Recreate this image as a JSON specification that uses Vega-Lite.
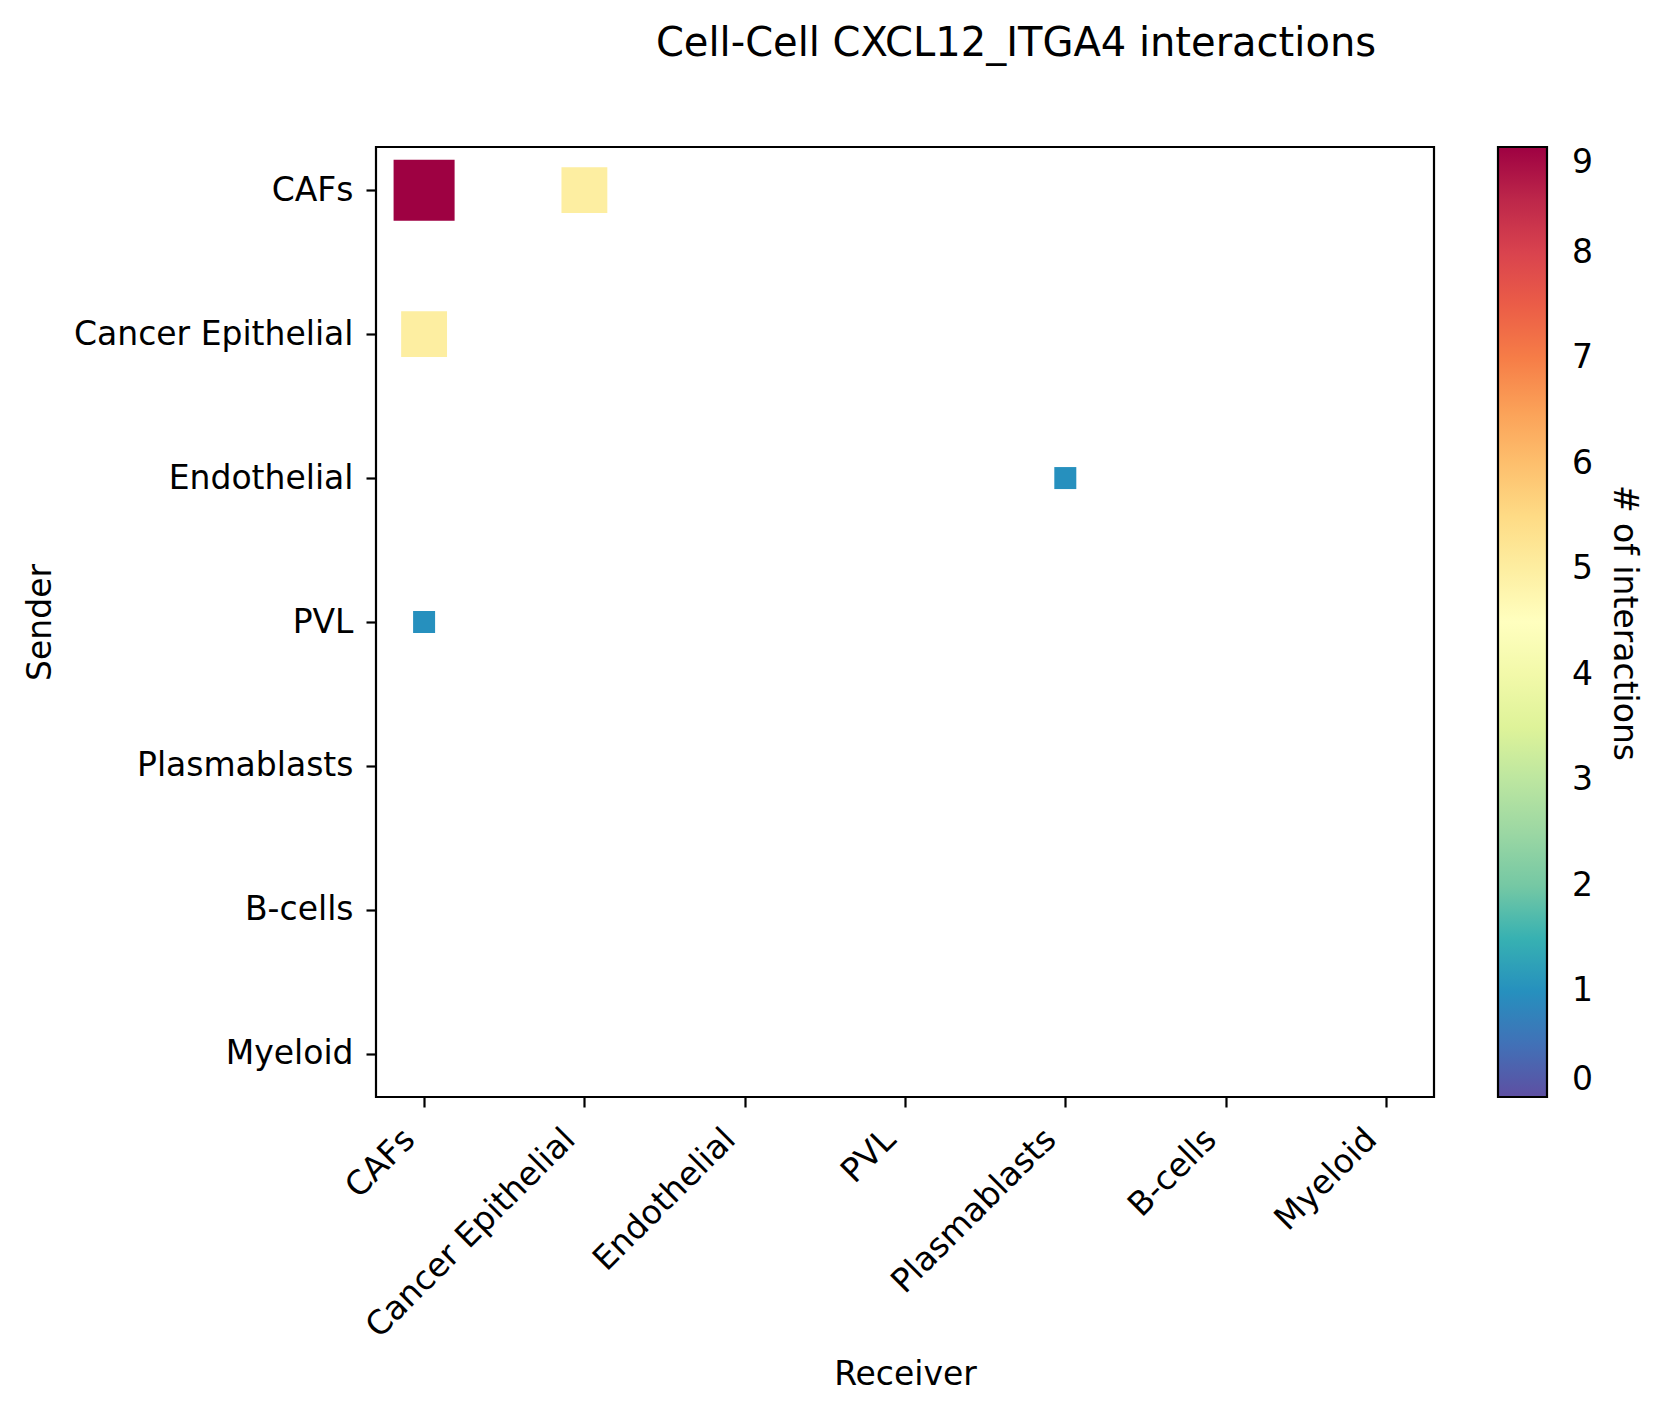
{
  "$schema": "https://vega.github.io/schema/vega-lite/v6.json",
  "autosize": {"type": "none"},
  "padding": {"left": 376, "top": 147, "right": 230, "bottom": 318},
  "width": 1058,
  "height": 950,
  "title": {
    "text": "Cell-Cell CXCL12_ITGA4 interactions",
    "fontSize": 40,
    "font": "DejaVu Sans",
    "fontWeight": "normal",
    "color": "black",
    "anchor": "middle",
    "dx": 111,
    "offset": 83
  },
  "data": {
    "values": [
      {"Sender": "CAFs", "Receiver": "CAFs", "count": 9},
      {"Sender": "CAFs", "Receiver": "Cancer Epithelial", "count": 5},
      {"Sender": "Cancer Epithelial", "Receiver": "CAFs", "count": 5},
      {"Sender": "Endothelial", "Receiver": "Plasmablasts", "count": 1},
      {"Sender": "PVL", "Receiver": "CAFs", "count": 1}
    ]
  },
  "mark": {"type": "point", "shape": "square", "filled": true, "opacity": 1},
  "encoding": {
    "x": {
      "field": "Receiver",
      "type": "nominal",
      "sort": null,
      "scale": {"type": "point", "padding": 0.3, "domain": ["CAFs", "Cancer Epithelial", "Endothelial", "PVL", "Plasmablasts", "B-cells", "Myeloid"]},
      "axis": {
        "title": "Receiver",
        "labelAngle": -45,
        "labelAlign": "right",
        "labelBaseline": "bottom",
        "labelPadding": 39,
        "labelOffset": -3,
        "titleY": 277,
        "titleBaseline": "middle",
        "grid": false,
        "domain": false
      }
    },
    "y": {
      "field": "Sender",
      "type": "nominal",
      "sort": null,
      "scale": {"type": "point", "padding": 0.3, "domain": ["CAFs", "Cancer Epithelial", "Endothelial", "PVL", "Plasmablasts", "B-cells", "Myeloid"]},
      "axis": {
        "title": "Sender",
        "labelPadding": 13,
        "titleX": -336,
        "titleBaseline": "middle",
        "grid": false,
        "domain": false
      }
    },
    "size": {
      "field": "count",
      "type": "quantitative",
      "scale": {"type": "linear", "domain": [0, 9], "range": [79, 3724], "zero": false},
      "legend": null
    },
    "color": {
      "field": "count",
      "type": "quantitative",
      "scale": {
        "type": "linear",
        "domain": [0, 0.9, 1.8, 2.7, 3.6, 4.5, 5.4, 6.3, 7.2, 8.1, 9],
        "range": ["#5e4fa2", "#3288bd", "#66c2a5", "#abdda4", "#e6f598", "#ffffbf", "#fee08b", "#fdae61", "#f46d43", "#d53e4f", "#9e0142"]
      },
      "legend": {
        "title": "# of interactions",
        "titleOrient": "right",
        "titleFontSize": 33,
        "titleFont": "DejaVu Sans",
        "titleFontWeight": "normal",
        "titleColor": "black",
        "titlePadding": 14,
        "titleLimit": 2000,
        "orient": "right",
        "offset": 64,
        "direction": "vertical",
        "gradientLength": 950,
        "gradientThickness": 49,
        "gradientStrokeColor": "black",
        "gradientStrokeWidth": 2.2,
        "values": [0, 1, 2, 3, 4, 5, 6, 7, 8, 9],
        "format": "d",
        "labelFontSize": 33,
        "labelFont": "DejaVu Sans",
        "labelColor": "black",
        "labelOffset": 25,
        "labelOverlap": false,
        "padding": 0,
        "encode": {
          "labels": {"dy": {"signal": "datum.perc >= 0.999 ? -11 : datum.perc <= 0.001 ? 23 : 0"}}
        }
      }
    }
  },
  "config": {
    "view": {"stroke": "black", "strokeWidth": 2.2},
    "axis": {
      "labelFont": "DejaVu Sans",
      "labelFontSize": 33,
      "labelColor": "black",
      "labelLimit": 0,
      "titleFont": "DejaVu Sans",
      "titleFontSize": 33,
      "titleFontWeight": "normal",
      "titleColor": "black",
      "tickColor": "black",
      "tickSize": 10,
      "tickWidth": 2.2
    }
  }
}
